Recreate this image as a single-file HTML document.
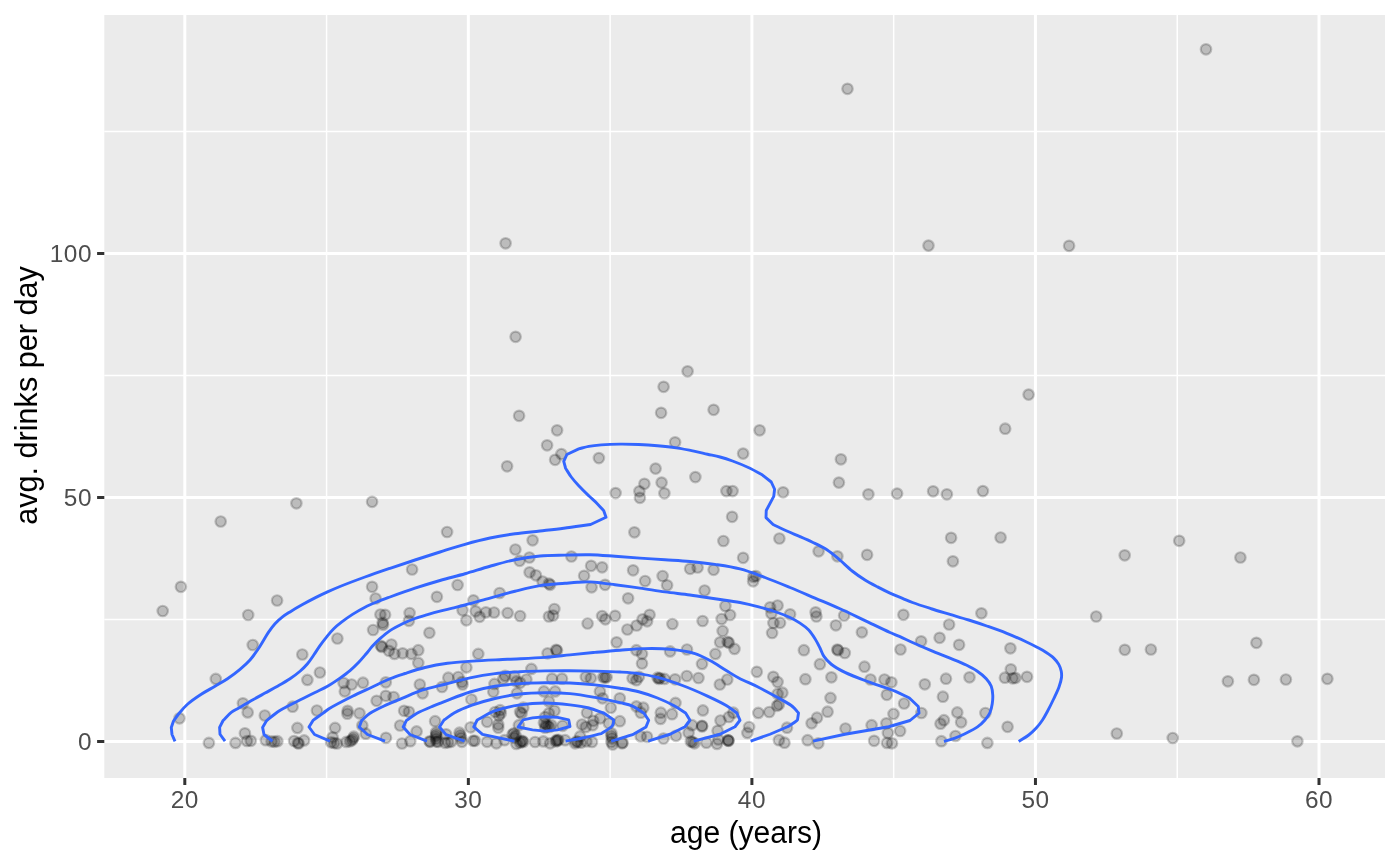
<!DOCTYPE html><html><head><meta charset="utf-8"><title>plot</title><style>html,body{margin:0;padding:0;background:#fff}svg{display:block}text{font-family:"Liberation Sans",sans-serif}</style></head><body>
<svg width="1400" height="866" viewBox="0 0 1400 866">
<rect width="1400" height="866" fill="#fff"/>
<rect x="104.3" y="15.0" width="1280.7" height="763.0" fill="#EBEBEB"/>
<g stroke="#fff" stroke-width="1.5" fill="none">
<line x1="326.58" x2="326.58" y1="15.0" y2="778.0"/>
<line x1="610.12" x2="610.12" y1="15.0" y2="778.0"/>
<line x1="893.67" x2="893.67" y1="15.0" y2="778.0"/>
<line x1="1177.23" x2="1177.23" y1="15.0" y2="778.0"/>
<line y1="619.50" y2="619.50" x1="104.3" x2="1385.0"/>
<line y1="375.50" y2="375.50" x1="104.3" x2="1385.0"/>
<line y1="131.50" y2="131.50" x1="104.3" x2="1385.0"/>
</g><g stroke="#fff" stroke-width="3" fill="none">
<line x1="184.80" x2="184.80" y1="15.0" y2="778.0"/>
<line x1="468.35" x2="468.35" y1="15.0" y2="778.0"/>
<line x1="751.90" x2="751.90" y1="15.0" y2="778.0"/>
<line x1="1035.45" x2="1035.45" y1="15.0" y2="778.0"/>
<line x1="1319.00" x2="1319.00" y1="15.0" y2="778.0"/>
<line y1="741.50" y2="741.50" x1="104.3" x2="1385.0"/>
<line y1="497.50" y2="497.50" x1="104.3" x2="1385.0"/>
<line y1="253.50" y2="253.50" x1="104.3" x2="1385.0"/>
</g>
<g fill="#000" fill-opacity="0.2" stroke="#000" stroke-opacity="0.2" stroke-width="2.2">
<circle cx="296.4" cy="503.3" r="5.25"/>
<circle cx="372.1" cy="501.8" r="5.25"/>
<circle cx="220.7" cy="521.5" r="5.25"/>
<circle cx="447.1" cy="532.0" r="5.25"/>
<circle cx="180.9" cy="586.8" r="5.25"/>
<circle cx="162.7" cy="611.0" r="5.25"/>
<circle cx="277.1" cy="600.5" r="5.25"/>
<circle cx="248.2" cy="615.0" r="5.25"/>
<circle cx="252.7" cy="645.0" r="5.25"/>
<circle cx="337.4" cy="638.5" r="5.25"/>
<circle cx="372.1" cy="586.8" r="5.25"/>
<circle cx="412.1" cy="569.5" r="5.25"/>
<circle cx="375.6" cy="598.5" r="5.25"/>
<circle cx="436.9" cy="596.8" r="5.25"/>
<circle cx="380.4" cy="614.5" r="5.25"/>
<circle cx="385.1" cy="614.8" r="5.25"/>
<circle cx="409.6" cy="613.0" r="5.25"/>
<circle cx="408.9" cy="620.8" r="5.25"/>
<circle cx="382.6" cy="622.8" r="5.25"/>
<circle cx="383.1" cy="624.8" r="5.25"/>
<circle cx="373.1" cy="630.0" r="5.25"/>
<circle cx="429.4" cy="632.8" r="5.25"/>
<circle cx="380.9" cy="645.8" r="5.25"/>
<circle cx="381.9" cy="647.0" r="5.25"/>
<circle cx="391.4" cy="644.5" r="5.25"/>
<circle cx="215.8" cy="678.9" r="5.25"/>
<circle cx="179.5" cy="718.3" r="5.25"/>
<circle cx="242.9" cy="703.3" r="5.25"/>
<circle cx="247.7" cy="712.4" r="5.25"/>
<circle cx="264.8" cy="715.5" r="5.25"/>
<circle cx="244.9" cy="733.3" r="5.25"/>
<circle cx="208.9" cy="742.9" r="5.25"/>
<circle cx="235.5" cy="742.9" r="5.25"/>
<circle cx="247.0" cy="741.0" r="5.25"/>
<circle cx="250.8" cy="740.8" r="5.25"/>
<circle cx="265.8" cy="740.2" r="5.25"/>
<circle cx="302.3" cy="654.5" r="5.25"/>
<circle cx="319.9" cy="672.5" r="5.25"/>
<circle cx="307.4" cy="679.9" r="5.25"/>
<circle cx="343.6" cy="683.0" r="5.25"/>
<circle cx="351.6" cy="684.5" r="5.25"/>
<circle cx="363.0" cy="682.7" r="5.25"/>
<circle cx="344.8" cy="691.4" r="5.25"/>
<circle cx="385.8" cy="682.3" r="5.25"/>
<circle cx="292.6" cy="706.7" r="5.25"/>
<circle cx="316.9" cy="710.5" r="5.25"/>
<circle cx="376.6" cy="700.8" r="5.25"/>
<circle cx="385.8" cy="695.8" r="5.25"/>
<circle cx="393.6" cy="697.0" r="5.25"/>
<circle cx="419.8" cy="684.5" r="5.25"/>
<circle cx="422.6" cy="693.3" r="5.25"/>
<circle cx="442.0" cy="687.0" r="5.25"/>
<circle cx="347.6" cy="710.8" r="5.25"/>
<circle cx="347.4" cy="713.7" r="5.25"/>
<circle cx="359.5" cy="713.3" r="5.25"/>
<circle cx="404.1" cy="710.8" r="5.25"/>
<circle cx="408.9" cy="711.8" r="5.25"/>
<circle cx="297.4" cy="727.9" r="5.25"/>
<circle cx="335.1" cy="727.9" r="5.25"/>
<circle cx="362.3" cy="725.4" r="5.25"/>
<circle cx="365.8" cy="733.7" r="5.25"/>
<circle cx="400.1" cy="725.5" r="5.25"/>
<circle cx="416.6" cy="731.4" r="5.25"/>
<circle cx="435.1" cy="721.2" r="5.25"/>
<circle cx="386.0" cy="737.8" r="5.25"/>
<circle cx="388.9" cy="650.8" r="5.25"/>
<circle cx="394.5" cy="653.9" r="5.25"/>
<circle cx="402.6" cy="653.3" r="5.25"/>
<circle cx="411.4" cy="653.9" r="5.25"/>
<circle cx="418.3" cy="650.2" r="5.25"/>
<circle cx="418.3" cy="662.9" r="5.25"/>
<circle cx="271.6" cy="741.4" r="5.25"/>
<circle cx="274.5" cy="741.8" r="5.25"/>
<circle cx="277.4" cy="741.2" r="5.25"/>
<circle cx="294.1" cy="741.0" r="5.25"/>
<circle cx="297.9" cy="742.9" r="5.25"/>
<circle cx="298.6" cy="743.5" r="5.25"/>
<circle cx="304.1" cy="740.4" r="5.25"/>
<circle cx="332.6" cy="737.3" r="5.25"/>
<circle cx="331.1" cy="742.3" r="5.25"/>
<circle cx="334.1" cy="743.0" r="5.25"/>
<circle cx="337.0" cy="743.5" r="5.25"/>
<circle cx="346.4" cy="741.9" r="5.25"/>
<circle cx="349.9" cy="741.3" r="5.25"/>
<circle cx="351.9" cy="740.3" r="5.25"/>
<circle cx="353.1" cy="738.6" r="5.25"/>
<circle cx="353.8" cy="736.7" r="5.25"/>
<circle cx="436.1" cy="732.3" r="5.25"/>
<circle cx="436.3" cy="734.3" r="5.25"/>
<circle cx="435.9" cy="736.3" r="5.25"/>
<circle cx="436.1" cy="738.8" r="5.25"/>
<circle cx="436.4" cy="741.6" r="5.25"/>
<circle cx="429.6" cy="741.3" r="5.25"/>
<circle cx="430.1" cy="741.8" r="5.25"/>
<circle cx="438.1" cy="741.8" r="5.25"/>
<circle cx="446.1" cy="734.3" r="5.25"/>
<circle cx="445.1" cy="742.8" r="5.25"/>
<circle cx="448.1" cy="742.3" r="5.25"/>
<circle cx="451.1" cy="741.8" r="5.25"/>
<circle cx="459.5" cy="732.7" r="5.25"/>
<circle cx="460.3" cy="735.3" r="5.25"/>
<circle cx="461.1" cy="737.9" r="5.25"/>
<circle cx="461.9" cy="741.8" r="5.25"/>
<circle cx="470.6" cy="727.3" r="5.25"/>
<circle cx="473.1" cy="740.8" r="5.25"/>
<circle cx="474.9" cy="740.8" r="5.25"/>
<circle cx="487.1" cy="741.8" r="5.25"/>
<circle cx="487.1" cy="721.8" r="5.25"/>
<circle cx="402.0" cy="743.5" r="5.25"/>
<circle cx="410.3" cy="741.2" r="5.25"/>
<circle cx="478.3" cy="653.9" r="5.25"/>
<circle cx="466.4" cy="667.4" r="5.25"/>
<circle cx="448.3" cy="677.7" r="5.25"/>
<circle cx="458.3" cy="677.0" r="5.25"/>
<circle cx="462.0" cy="682.0" r="5.25"/>
<circle cx="462.6" cy="684.5" r="5.25"/>
<circle cx="531.4" cy="668.9" r="5.25"/>
<circle cx="547.6" cy="653.3" r="5.25"/>
<circle cx="556.1" cy="649.8" r="5.25"/>
<circle cx="557.0" cy="650.5" r="5.25"/>
<circle cx="505.1" cy="675.8" r="5.25"/>
<circle cx="503.3" cy="678.9" r="5.25"/>
<circle cx="514.5" cy="676.4" r="5.25"/>
<circle cx="516.4" cy="681.4" r="5.25"/>
<circle cx="520.1" cy="682.7" r="5.25"/>
<circle cx="526.4" cy="679.5" r="5.25"/>
<circle cx="494.5" cy="683.9" r="5.25"/>
<circle cx="493.3" cy="691.8" r="5.25"/>
<circle cx="517.0" cy="693.3" r="5.25"/>
<circle cx="552.0" cy="678.7" r="5.25"/>
<circle cx="562.0" cy="678.7" r="5.25"/>
<circle cx="585.8" cy="677.0" r="5.25"/>
<circle cx="590.8" cy="678.3" r="5.25"/>
<circle cx="603.3" cy="677.3" r="5.25"/>
<circle cx="605.1" cy="677.3" r="5.25"/>
<circle cx="606.6" cy="677.3" r="5.25"/>
<circle cx="543.9" cy="691.4" r="5.25"/>
<circle cx="555.1" cy="691.4" r="5.25"/>
<circle cx="599.9" cy="691.4" r="5.25"/>
<circle cx="602.6" cy="698.3" r="5.25"/>
<circle cx="548.9" cy="701.4" r="5.25"/>
<circle cx="471.4" cy="699.5" r="5.25"/>
<circle cx="619.8" cy="698.3" r="5.25"/>
<circle cx="610.8" cy="707.7" r="5.25"/>
<circle cx="587.0" cy="712.7" r="5.25"/>
<circle cx="500.1" cy="710.2" r="5.25"/>
<circle cx="500.8" cy="713.3" r="5.25"/>
<circle cx="498.9" cy="715.8" r="5.25"/>
<circle cx="495.1" cy="712.0" r="5.25"/>
<circle cx="523.3" cy="707.7" r="5.25"/>
<circle cx="520.1" cy="712.0" r="5.25"/>
<circle cx="521.6" cy="713.5" r="5.25"/>
<circle cx="554.5" cy="710.8" r="5.25"/>
<circle cx="548.9" cy="713.3" r="5.25"/>
<circle cx="545.1" cy="717.0" r="5.25"/>
<circle cx="498.3" cy="724.5" r="5.25"/>
<circle cx="498.3" cy="727.7" r="5.25"/>
<circle cx="518.9" cy="725.2" r="5.25"/>
<circle cx="543.9" cy="722.7" r="5.25"/>
<circle cx="545.8" cy="724.5" r="5.25"/>
<circle cx="547.6" cy="725.8" r="5.25"/>
<circle cx="549.5" cy="727.0" r="5.25"/>
<circle cx="545.1" cy="727.7" r="5.25"/>
<circle cx="551.4" cy="725.2" r="5.25"/>
<circle cx="562.6" cy="725.8" r="5.25"/>
<circle cx="582.0" cy="724.5" r="5.25"/>
<circle cx="585.8" cy="727.0" r="5.25"/>
<circle cx="593.3" cy="720.8" r="5.25"/>
<circle cx="592.6" cy="725.2" r="5.25"/>
<circle cx="600.1" cy="718.3" r="5.25"/>
<circle cx="608.9" cy="723.3" r="5.25"/>
<circle cx="619.8" cy="721.2" r="5.25"/>
<circle cx="513.9" cy="733.3" r="5.25"/>
<circle cx="515.8" cy="735.8" r="5.25"/>
<circle cx="512.6" cy="734.5" r="5.25"/>
<circle cx="514.5" cy="737.7" r="5.25"/>
<circle cx="580.1" cy="736.4" r="5.25"/>
<circle cx="611.4" cy="733.3" r="5.25"/>
<circle cx="611.4" cy="735.8" r="5.25"/>
<circle cx="612.0" cy="738.3" r="5.25"/>
<circle cx="496.4" cy="743.3" r="5.25"/>
<circle cx="504.5" cy="740.2" r="5.25"/>
<circle cx="516.4" cy="743.9" r="5.25"/>
<circle cx="521.4" cy="741.4" r="5.25"/>
<circle cx="523.3" cy="742.0" r="5.25"/>
<circle cx="520.1" cy="742.7" r="5.25"/>
<circle cx="522.4" cy="740.8" r="5.25"/>
<circle cx="535.1" cy="742.0" r="5.25"/>
<circle cx="543.3" cy="741.4" r="5.25"/>
<circle cx="550.1" cy="743.3" r="5.25"/>
<circle cx="556.4" cy="740.2" r="5.25"/>
<circle cx="557.6" cy="740.8" r="5.25"/>
<circle cx="555.8" cy="741.4" r="5.25"/>
<circle cx="558.3" cy="739.8" r="5.25"/>
<circle cx="565.1" cy="740.2" r="5.25"/>
<circle cx="575.1" cy="743.3" r="5.25"/>
<circle cx="577.6" cy="742.0" r="5.25"/>
<circle cx="580.8" cy="742.7" r="5.25"/>
<circle cx="576.4" cy="741.4" r="5.25"/>
<circle cx="586.4" cy="741.4" r="5.25"/>
<circle cx="592.0" cy="742.0" r="5.25"/>
<circle cx="611.4" cy="742.0" r="5.25"/>
<circle cx="612.6" cy="744.5" r="5.25"/>
<circle cx="636.4" cy="650.2" r="5.25"/>
<circle cx="642.0" cy="653.9" r="5.25"/>
<circle cx="642.0" cy="663.5" r="5.25"/>
<circle cx="670.1" cy="651.4" r="5.25"/>
<circle cx="687.0" cy="649.5" r="5.25"/>
<circle cx="715.4" cy="653.9" r="5.25"/>
<circle cx="734.5" cy="648.9" r="5.25"/>
<circle cx="702.0" cy="663.9" r="5.25"/>
<circle cx="756.8" cy="671.8" r="5.25"/>
<circle cx="773.3" cy="676.8" r="5.25"/>
<circle cx="777.6" cy="682.0" r="5.25"/>
<circle cx="632.6" cy="678.3" r="5.25"/>
<circle cx="636.4" cy="680.2" r="5.25"/>
<circle cx="638.9" cy="676.8" r="5.25"/>
<circle cx="657.6" cy="677.7" r="5.25"/>
<circle cx="658.9" cy="678.9" r="5.25"/>
<circle cx="659.9" cy="678.0" r="5.25"/>
<circle cx="664.5" cy="678.9" r="5.25"/>
<circle cx="675.1" cy="679.3" r="5.25"/>
<circle cx="686.8" cy="676.0" r="5.25"/>
<circle cx="698.5" cy="678.0" r="5.25"/>
<circle cx="727.3" cy="679.5" r="5.25"/>
<circle cx="719.8" cy="684.5" r="5.25"/>
<circle cx="777.6" cy="693.9" r="5.25"/>
<circle cx="782.4" cy="692.7" r="5.25"/>
<circle cx="777.0" cy="705.8" r="5.25"/>
<circle cx="778.9" cy="704.5" r="5.25"/>
<circle cx="758.3" cy="712.9" r="5.25"/>
<circle cx="769.3" cy="712.0" r="5.25"/>
<circle cx="636.4" cy="706.4" r="5.25"/>
<circle cx="643.3" cy="707.7" r="5.25"/>
<circle cx="640.8" cy="712.7" r="5.25"/>
<circle cx="675.5" cy="702.9" r="5.25"/>
<circle cx="660.8" cy="712.7" r="5.25"/>
<circle cx="672.0" cy="714.2" r="5.25"/>
<circle cx="660.5" cy="718.9" r="5.25"/>
<circle cx="702.9" cy="710.4" r="5.25"/>
<circle cx="733.3" cy="712.7" r="5.25"/>
<circle cx="728.9" cy="717.0" r="5.25"/>
<circle cx="720.5" cy="720.5" r="5.25"/>
<circle cx="692.0" cy="725.2" r="5.25"/>
<circle cx="702.0" cy="725.8" r="5.25"/>
<circle cx="702.1" cy="726.4" r="5.25"/>
<circle cx="688.6" cy="732.7" r="5.25"/>
<circle cx="717.6" cy="730.8" r="5.25"/>
<circle cx="749.1" cy="727.0" r="5.25"/>
<circle cx="747.4" cy="732.9" r="5.25"/>
<circle cx="787.0" cy="727.7" r="5.25"/>
<circle cx="640.8" cy="736.4" r="5.25"/>
<circle cx="647.0" cy="736.8" r="5.25"/>
<circle cx="663.5" cy="738.5" r="5.25"/>
<circle cx="676.0" cy="735.8" r="5.25"/>
<circle cx="622.0" cy="743.3" r="5.25"/>
<circle cx="622.6" cy="742.7" r="5.25"/>
<circle cx="690.8" cy="741.4" r="5.25"/>
<circle cx="694.5" cy="743.3" r="5.25"/>
<circle cx="692.6" cy="742.0" r="5.25"/>
<circle cx="706.4" cy="742.7" r="5.25"/>
<circle cx="717.0" cy="743.9" r="5.25"/>
<circle cx="718.3" cy="739.5" r="5.25"/>
<circle cx="728.3" cy="740.4" r="5.25"/>
<circle cx="728.6" cy="740.8" r="5.25"/>
<circle cx="728.0" cy="740.3" r="5.25"/>
<circle cx="778.9" cy="740.2" r="5.25"/>
<circle cx="784.5" cy="742.7" r="5.25"/>
<circle cx="803.9" cy="650.2" r="5.25"/>
<circle cx="837.3" cy="649.5" r="5.25"/>
<circle cx="838.0" cy="650.3" r="5.25"/>
<circle cx="844.8" cy="653.0" r="5.25"/>
<circle cx="900.5" cy="649.5" r="5.25"/>
<circle cx="819.9" cy="664.2" r="5.25"/>
<circle cx="864.5" cy="666.7" r="5.25"/>
<circle cx="805.4" cy="679.2" r="5.25"/>
<circle cx="831.4" cy="677.3" r="5.25"/>
<circle cx="870.5" cy="679.5" r="5.25"/>
<circle cx="884.5" cy="679.5" r="5.25"/>
<circle cx="891.4" cy="682.3" r="5.25"/>
<circle cx="924.8" cy="684.3" r="5.25"/>
<circle cx="946.0" cy="678.7" r="5.25"/>
<circle cx="969.5" cy="677.3" r="5.25"/>
<circle cx="830.5" cy="697.9" r="5.25"/>
<circle cx="886.8" cy="694.8" r="5.25"/>
<circle cx="942.9" cy="696.7" r="5.25"/>
<circle cx="904.1" cy="703.5" r="5.25"/>
<circle cx="827.6" cy="711.7" r="5.25"/>
<circle cx="817.0" cy="717.7" r="5.25"/>
<circle cx="811.6" cy="723.3" r="5.25"/>
<circle cx="893.5" cy="713.9" r="5.25"/>
<circle cx="921.4" cy="713.0" r="5.25"/>
<circle cx="957.3" cy="712.4" r="5.25"/>
<circle cx="943.9" cy="720.2" r="5.25"/>
<circle cx="940.5" cy="723.7" r="5.25"/>
<circle cx="961.1" cy="722.3" r="5.25"/>
<circle cx="845.5" cy="728.5" r="5.25"/>
<circle cx="871.6" cy="725.2" r="5.25"/>
<circle cx="886.4" cy="723.3" r="5.25"/>
<circle cx="887.9" cy="733.0" r="5.25"/>
<circle cx="900.1" cy="731.0" r="5.25"/>
<circle cx="955.5" cy="736.0" r="5.25"/>
<circle cx="807.6" cy="740.2" r="5.25"/>
<circle cx="818.3" cy="743.3" r="5.25"/>
<circle cx="874.1" cy="740.8" r="5.25"/>
<circle cx="887.0" cy="742.9" r="5.25"/>
<circle cx="892.0" cy="743.3" r="5.25"/>
<circle cx="941.4" cy="741.2" r="5.25"/>
<circle cx="1010.4" cy="648.3" r="5.25"/>
<circle cx="1124.8" cy="649.8" r="5.25"/>
<circle cx="1010.8" cy="669.3" r="5.25"/>
<circle cx="1004.9" cy="677.7" r="5.25"/>
<circle cx="1012.6" cy="678.3" r="5.25"/>
<circle cx="1015.4" cy="678.0" r="5.25"/>
<circle cx="1027.0" cy="676.8" r="5.25"/>
<circle cx="985.4" cy="713.0" r="5.25"/>
<circle cx="1007.6" cy="726.8" r="5.25"/>
<circle cx="987.4" cy="742.9" r="5.25"/>
<circle cx="1116.8" cy="733.5" r="5.25"/>
<circle cx="1179.2" cy="540.8" r="5.25"/>
<circle cx="1124.7" cy="555.3" r="5.25"/>
<circle cx="1240.4" cy="557.5" r="5.25"/>
<circle cx="1096.2" cy="616.5" r="5.25"/>
<circle cx="1256.4" cy="642.8" r="5.25"/>
<circle cx="1150.9" cy="649.5" r="5.25"/>
<circle cx="1227.9" cy="681.3" r="5.25"/>
<circle cx="1253.9" cy="679.8" r="5.25"/>
<circle cx="1285.9" cy="679.5" r="5.25"/>
<circle cx="1327.4" cy="678.8" r="5.25"/>
<circle cx="1172.7" cy="738.0" r="5.25"/>
<circle cx="1297.4" cy="741.3" r="5.25"/>
<circle cx="547.1" cy="445.3" r="5.25"/>
<circle cx="561.4" cy="454.1" r="5.25"/>
<circle cx="555.1" cy="459.8" r="5.25"/>
<circle cx="507.1" cy="466.3" r="5.25"/>
<circle cx="598.9" cy="458.1" r="5.25"/>
<circle cx="675.1" cy="442.3" r="5.25"/>
<circle cx="743.1" cy="453.6" r="5.25"/>
<circle cx="655.6" cy="468.6" r="5.25"/>
<circle cx="695.4" cy="477.1" r="5.25"/>
<circle cx="644.4" cy="483.8" r="5.25"/>
<circle cx="661.6" cy="482.6" r="5.25"/>
<circle cx="639.4" cy="491.3" r="5.25"/>
<circle cx="639.9" cy="497.8" r="5.25"/>
<circle cx="664.4" cy="493.3" r="5.25"/>
<circle cx="615.6" cy="493.1" r="5.25"/>
<circle cx="726.4" cy="491.1" r="5.25"/>
<circle cx="732.6" cy="491.1" r="5.25"/>
<circle cx="783.1" cy="492.3" r="5.25"/>
<circle cx="732.1" cy="516.8" r="5.25"/>
<circle cx="634.4" cy="532.3" r="5.25"/>
<circle cx="723.4" cy="541.0" r="5.25"/>
<circle cx="779.4" cy="538.5" r="5.25"/>
<circle cx="532.6" cy="540.3" r="5.25"/>
<circle cx="515.4" cy="549.5" r="5.25"/>
<circle cx="529.4" cy="557.5" r="5.25"/>
<circle cx="519.6" cy="560.8" r="5.25"/>
<circle cx="571.4" cy="556.5" r="5.25"/>
<circle cx="743.1" cy="557.8" r="5.25"/>
<circle cx="591.1" cy="565.8" r="5.25"/>
<circle cx="602.1" cy="567.3" r="5.25"/>
<circle cx="584.1" cy="575.8" r="5.25"/>
<circle cx="633.1" cy="570.3" r="5.25"/>
<circle cx="662.6" cy="576.0" r="5.25"/>
<circle cx="645.1" cy="581.0" r="5.25"/>
<circle cx="667.1" cy="585.3" r="5.25"/>
<circle cx="690.1" cy="568.8" r="5.25"/>
<circle cx="697.6" cy="567.5" r="5.25"/>
<circle cx="713.6" cy="569.8" r="5.25"/>
<circle cx="753.4" cy="576.8" r="5.25"/>
<circle cx="755.9" cy="576.0" r="5.25"/>
<circle cx="753.1" cy="581.3" r="5.25"/>
<circle cx="529.6" cy="572.3" r="5.25"/>
<circle cx="535.9" cy="575.3" r="5.25"/>
<circle cx="542.6" cy="581.5" r="5.25"/>
<circle cx="548.9" cy="583.5" r="5.25"/>
<circle cx="550.1" cy="584.8" r="5.25"/>
<circle cx="457.6" cy="585.0" r="5.25"/>
<circle cx="591.6" cy="587.3" r="5.25"/>
<circle cx="605.1" cy="584.8" r="5.25"/>
<circle cx="704.6" cy="590.5" r="5.25"/>
<circle cx="499.6" cy="593.0" r="5.25"/>
<circle cx="473.4" cy="600.3" r="5.25"/>
<circle cx="628.1" cy="598.3" r="5.25"/>
<circle cx="725.4" cy="606.0" r="5.25"/>
<circle cx="730.1" cy="615.0" r="5.25"/>
<circle cx="721.6" cy="619.0" r="5.25"/>
<circle cx="722.6" cy="631.0" r="5.25"/>
<circle cx="770.1" cy="607.3" r="5.25"/>
<circle cx="777.6" cy="605.5" r="5.25"/>
<circle cx="771.4" cy="613.5" r="5.25"/>
<circle cx="773.4" cy="623.0" r="5.25"/>
<circle cx="780.1" cy="622.8" r="5.25"/>
<circle cx="772.1" cy="633.0" r="5.25"/>
<circle cx="790.1" cy="614.3" r="5.25"/>
<circle cx="462.6" cy="610.3" r="5.25"/>
<circle cx="475.6" cy="611.3" r="5.25"/>
<circle cx="479.6" cy="616.8" r="5.25"/>
<circle cx="485.9" cy="612.3" r="5.25"/>
<circle cx="494.1" cy="612.5" r="5.25"/>
<circle cx="507.6" cy="613.0" r="5.25"/>
<circle cx="520.1" cy="616.0" r="5.25"/>
<circle cx="466.4" cy="620.3" r="5.25"/>
<circle cx="554.4" cy="609.0" r="5.25"/>
<circle cx="548.9" cy="616.5" r="5.25"/>
<circle cx="553.1" cy="615.5" r="5.25"/>
<circle cx="602.1" cy="616.0" r="5.25"/>
<circle cx="605.4" cy="619.3" r="5.25"/>
<circle cx="615.1" cy="615.8" r="5.25"/>
<circle cx="587.6" cy="623.5" r="5.25"/>
<circle cx="649.6" cy="614.8" r="5.25"/>
<circle cx="642.6" cy="619.3" r="5.25"/>
<circle cx="647.1" cy="621.3" r="5.25"/>
<circle cx="636.6" cy="625.5" r="5.25"/>
<circle cx="627.4" cy="629.5" r="5.25"/>
<circle cx="672.4" cy="624.0" r="5.25"/>
<circle cx="702.6" cy="621.0" r="5.25"/>
<circle cx="616.6" cy="642.3" r="5.25"/>
<circle cx="720.1" cy="642.3" r="5.25"/>
<circle cx="727.6" cy="641.8" r="5.25"/>
<circle cx="728.9" cy="642.8" r="5.25"/>
<circle cx="840.9" cy="459.3" r="5.25"/>
<circle cx="838.9" cy="482.6" r="5.25"/>
<circle cx="868.4" cy="494.3" r="5.25"/>
<circle cx="897.1" cy="493.6" r="5.25"/>
<circle cx="933.1" cy="491.3" r="5.25"/>
<circle cx="946.9" cy="494.3" r="5.25"/>
<circle cx="982.9" cy="491.1" r="5.25"/>
<circle cx="951.1" cy="537.8" r="5.25"/>
<circle cx="1000.6" cy="537.5" r="5.25"/>
<circle cx="818.6" cy="551.3" r="5.25"/>
<circle cx="837.4" cy="556.3" r="5.25"/>
<circle cx="867.1" cy="554.8" r="5.25"/>
<circle cx="952.9" cy="561.3" r="5.25"/>
<circle cx="815.6" cy="612.3" r="5.25"/>
<circle cx="816.4" cy="616.5" r="5.25"/>
<circle cx="844.1" cy="615.5" r="5.25"/>
<circle cx="835.9" cy="625.3" r="5.25"/>
<circle cx="861.9" cy="632.3" r="5.25"/>
<circle cx="903.4" cy="614.8" r="5.25"/>
<circle cx="981.4" cy="613.3" r="5.25"/>
<circle cx="949.1" cy="624.5" r="5.25"/>
<circle cx="939.6" cy="637.8" r="5.25"/>
<circle cx="921.1" cy="641.3" r="5.25"/>
<circle cx="959.1" cy="644.8" r="5.25"/>
<circle cx="505.6" cy="243.3" r="5.25"/>
<circle cx="515.6" cy="336.8" r="5.25"/>
<circle cx="519.1" cy="415.8" r="5.25"/>
<circle cx="557.1" cy="430.3" r="5.25"/>
<circle cx="687.6" cy="371.3" r="5.25"/>
<circle cx="663.6" cy="386.8" r="5.25"/>
<circle cx="661.1" cy="412.8" r="5.25"/>
<circle cx="713.6" cy="409.8" r="5.25"/>
<circle cx="759.6" cy="430.3" r="5.25"/>
<circle cx="1206.0" cy="49.3" r="5.25"/>
<circle cx="847.5" cy="88.8" r="5.25"/>
<circle cx="928.5" cy="245.6" r="5.25"/>
<circle cx="1069.1" cy="245.8" r="5.25"/>
<circle cx="1028.6" cy="394.6" r="5.25"/>
<circle cx="1005.2" cy="428.7" r="5.25"/>
</g>
<g fill="none" stroke="#3366FF" stroke-width="2.9" stroke-linejoin="round" stroke-linecap="butt">
<path d="M175.00,741.30 L172.00,734.50 L171.30,727.50 L173.50,721.00 C175.47,718.33 177.20,715.66 179.40,713.00 C181.81,710.08 184.28,707.11 187.50,704.25 C191.34,700.84 196.59,697.29 201.25,694.25 C205.76,691.31 210.53,688.89 215.00,686.25 C219.27,683.72 223.40,681.50 227.50,678.75 C231.74,675.90 236.15,672.63 240.00,669.40 C243.61,666.37 247.03,663.32 250.00,660.00 C252.83,656.83 255.18,653.38 257.50,650.00 C259.75,646.71 261.79,643.16 263.75,640.00 C265.51,637.16 266.92,634.56 268.75,631.90 C270.65,629.14 272.70,626.26 275.00,623.75 C277.29,621.26 279.92,618.92 282.50,616.90 C284.93,615.00 287.15,613.68 290.00,611.90 C293.61,609.65 298.31,606.94 302.50,604.60 C306.65,602.28 310.81,600.03 315.00,597.90 C319.14,595.80 323.31,593.81 327.50,591.90 C331.65,590.01 335.09,588.49 340.00,586.50 C346.88,583.71 356.65,580.04 365.00,577.00 C373.31,573.98 381.66,571.14 390.00,568.30 C398.32,565.47 406.66,562.72 415.00,560.00 C423.33,557.29 431.66,554.62 440.00,552.00 C448.33,549.39 456.64,546.64 465.00,544.30 C473.30,541.98 481.63,539.76 490.00,538.00 C498.30,536.25 506.65,534.92 515.00,533.75 C523.32,532.59 531.77,531.93 540.00,531.00 C548.02,530.09 555.60,529.29 563.75,528.25 C572.43,527.14 581.65,525.75 590.60,524.50 L606.00,517.25 L603.75,510.75 C601.67,508.47 599.81,506.23 597.50,503.90 C594.88,501.25 591.74,498.63 588.75,495.75 C585.50,492.61 581.79,489.03 578.75,485.75 C576.01,482.79 573.48,479.99 571.25,477.00 C569.13,474.15 567.48,471.17 565.60,468.25 L563.75,461.40 L566.90,454.50 L578.75,448.90 C582.08,448.07 585.21,447.05 588.75,446.40 C592.66,445.68 596.65,445.27 601.25,444.90 C606.86,444.44 613.75,444.17 620.00,444.10 C626.25,444.03 632.50,444.23 638.75,444.50 C645.00,444.77 651.26,445.18 657.50,445.75 C663.76,446.32 670.02,446.96 676.25,447.90 C682.52,448.84 689.39,450.24 695.00,451.40 C699.60,452.35 703.33,453.32 707.50,454.25 C711.66,455.18 715.86,455.88 720.00,457.00 C724.19,458.13 728.02,459.36 732.50,461.00 C737.88,462.97 744.72,465.72 750.00,468.25 C754.58,470.45 758.33,472.82 762.50,475.10 L771.25,482.00 L774.60,489.25 L773.75,496.40 L766.25,510.50 L766.00,517.60 L773.10,524.50 C777.90,526.77 782.85,529.22 787.50,531.30 C791.79,533.22 795.84,534.79 800.00,536.60 C804.18,538.42 808.36,540.23 812.50,542.20 C816.69,544.19 821.15,546.15 825.00,548.50 C828.62,550.71 832.13,553.52 835.00,555.80 C837.30,557.63 838.69,558.97 841.00,561.00 C844.22,563.83 848.49,568.08 852.50,571.25 C856.49,574.41 860.76,577.36 865.00,580.00 C869.10,582.56 873.31,584.71 877.50,586.90 C881.64,589.07 885.80,591.19 890.00,593.10 C894.14,594.98 898.57,596.66 902.50,598.30 C906.02,599.77 908.61,601.04 912.50,602.50 C917.74,604.47 924.99,606.76 931.25,608.75 C937.49,610.73 943.75,612.52 950.00,614.40 C956.25,616.27 962.52,618.03 968.75,620.00 C975.02,621.98 981.27,624.07 987.50,626.25 C993.77,628.44 1000.04,630.62 1006.25,633.10 C1012.54,635.61 1019.41,638.64 1025.00,641.25 C1029.62,643.41 1033.73,645.48 1037.50,647.50 C1040.70,649.21 1043.50,650.70 1046.25,652.50 C1048.90,654.24 1051.61,656.03 1053.75,658.10 C1055.73,660.02 1057.49,662.15 1058.75,664.40 C1059.95,666.54 1060.80,668.98 1061.25,671.25 C1061.66,673.35 1061.75,675.22 1061.50,677.50 C1061.19,680.36 1060.16,683.71 1059.00,687.00 C1057.67,690.76 1055.62,694.79 1053.75,698.75 C1051.80,702.87 1049.52,707.48 1047.50,711.25 C1045.79,714.45 1044.37,717.20 1042.50,720.00 C1040.62,722.82 1038.54,725.60 1036.25,728.10 C1033.96,730.60 1031.53,732.84 1028.75,735.00 C1025.74,737.33 1022.08,739.33 1018.75,741.50"/>
<path d="M225.00,741.10 L220.00,734.25 L219.60,727.40 L223.10,720.50 C225.82,717.80 228.45,714.56 231.25,712.40 C233.69,710.52 235.87,709.68 238.75,708.00 C242.64,705.73 248.01,702.54 252.50,700.00 C256.75,697.59 260.83,695.39 265.00,693.10 C269.16,690.81 273.36,688.63 277.50,686.25 C281.69,683.85 286.13,681.35 290.00,678.75 C293.59,676.34 296.99,673.86 300.00,671.25 C302.77,668.84 305.21,666.45 307.50,663.75 C309.80,661.03 311.69,657.99 313.75,655.00 C315.86,651.94 317.81,648.66 320.00,645.60 C322.19,642.53 324.56,639.46 326.90,636.60 C329.14,633.86 331.30,631.16 333.75,628.75 C336.17,626.37 338.64,624.42 341.50,622.20 C344.80,619.64 348.66,616.86 352.50,614.40 C356.48,611.85 360.77,609.34 365.00,607.20 C369.11,605.12 373.31,603.41 377.50,601.70 C381.64,600.01 385.11,598.78 390.00,597.00 C396.89,594.49 406.64,590.96 415.00,588.20 C423.31,585.46 431.65,582.91 440.00,580.50 C448.31,578.10 456.68,576.12 465.00,573.75 C473.35,571.37 481.64,568.59 490.00,566.25 C498.31,563.92 506.62,561.46 515.00,559.75 C523.29,558.06 531.64,556.77 540.00,556.00 C548.31,555.23 556.67,555.31 565.00,555.10 C573.33,554.89 581.67,554.56 590.00,554.75 C598.34,554.94 606.67,555.69 615.00,556.25 C623.34,556.81 631.67,557.52 640.00,558.10 C648.33,558.68 656.67,559.18 665.00,559.75 C673.33,560.32 681.68,560.73 690.00,561.50 C698.34,562.28 706.69,563.17 715.00,564.40 C723.35,565.63 731.75,566.75 740.00,568.90 C748.42,571.09 756.70,574.42 765.00,577.50 C773.37,580.61 781.68,584.07 790.00,587.50 C798.35,590.94 806.67,594.56 815.00,598.10 C823.33,601.64 831.70,605.02 840.00,608.75 C848.37,612.52 856.67,616.64 865.00,620.60 C873.33,624.56 883.52,629.60 890.00,632.50 C894.06,634.32 896.50,635.15 900.00,636.70 C903.95,638.45 907.90,640.44 912.50,642.50 C918.10,645.01 924.98,647.99 931.25,650.60 C937.48,653.19 943.99,655.62 950.00,658.10 C955.62,660.42 961.45,662.65 966.25,665.00 C970.26,666.96 973.65,668.69 977.00,671.00 C980.31,673.28 983.79,676.00 986.25,678.75 C988.38,681.13 990.17,683.53 991.25,686.25 C992.32,688.95 992.58,692.07 992.75,695.00 C992.91,697.91 992.70,700.86 992.25,703.75 C991.79,706.69 991.21,709.79 990.00,712.50 C988.79,715.21 987.00,717.66 985.00,720.00 C982.88,722.48 980.47,724.77 977.50,726.90 C973.99,729.42 968.98,731.80 965.00,733.75 C961.52,735.46 958.45,736.82 955.00,738.10 C951.46,739.41 947.67,740.37 944.00,741.50"/>
<path d="M272.50,741.25 L264.00,734.50 L262.60,727.40 L266.50,720.80 C270.17,717.87 274.18,714.27 277.50,712.00 C280.00,710.29 281.53,709.56 284.40,708.00 C288.98,705.50 297.02,701.52 302.50,698.75 C307.05,696.45 310.83,694.58 315.00,692.50 C319.17,690.42 323.40,688.60 327.50,686.25 C331.74,683.82 336.11,680.82 340.00,678.10 C343.56,675.61 346.85,673.26 350.00,670.60 C353.09,667.99 356.03,665.13 358.75,662.30 C361.35,659.59 363.69,656.73 366.00,654.00 C368.20,651.40 370.02,648.80 372.30,646.30 C374.67,643.69 377.20,641.21 380.00,638.70 C383.05,635.97 386.36,633.04 390.00,630.60 C393.83,628.03 398.28,625.79 402.50,623.75 C406.62,621.76 410.80,620.03 415.00,618.50 C419.13,616.99 423.32,615.84 427.50,614.60 C431.66,613.37 435.82,612.19 440.00,611.10 C444.16,610.02 448.34,609.12 452.50,608.10 C456.67,607.08 460.13,606.28 465.00,605.00 C471.91,603.19 481.67,600.39 490.00,598.10 C498.33,595.81 506.64,593.34 515.00,591.25 C523.31,589.17 531.62,586.93 540.00,585.60 C548.29,584.29 558.10,583.91 565.00,583.30 C569.88,582.87 573.33,582.48 577.50,582.25 C581.66,582.02 585.84,581.76 590.00,581.90 C594.17,582.04 598.34,582.63 602.50,583.10 C606.67,583.58 610.12,584.10 615.00,584.75 C621.90,585.67 631.67,586.91 640.00,588.10 C648.34,589.29 656.66,590.75 665.00,591.90 C673.33,593.05 681.67,593.86 690.00,595.00 C698.34,596.14 706.67,597.50 715.00,598.75 C723.33,600.00 732.29,601.02 740.00,602.50 C746.73,603.79 752.52,605.24 758.75,606.90 C765.03,608.57 771.92,610.56 777.50,612.50 C782.13,614.11 786.12,615.65 790.00,617.50 C793.58,619.21 796.86,621.00 800.00,623.10 C803.10,625.17 806.23,627.36 808.75,630.00 C811.22,632.59 813.12,635.73 815.00,638.75 C816.86,641.73 818.49,645.00 820.00,648.00 C821.39,650.77 822.03,653.52 823.75,656.10 C825.67,658.97 828.15,661.74 831.25,664.25 C834.97,667.27 839.62,669.75 845.00,672.40 C851.99,675.84 861.63,679.27 870.00,682.40 C878.30,685.50 887.88,688.17 895.00,691.10 C900.53,693.38 904.60,695.70 909.40,698.00 L918.30,706.50 L919.00,713.10 L910.00,720.50 L888.75,726.75 L845.00,734.25 L813.10,741.10"/>
<path d="M330.00,741.20 L314.50,734.50 L309.00,727.00 L313.00,720.40 C316.50,717.87 320.50,714.98 323.50,712.80 C325.75,711.17 326.71,710.18 329.40,708.50 C334.50,705.31 345.16,699.91 352.50,696.25 C359.03,693.00 365.00,690.42 371.25,687.50 C377.50,684.58 384.04,681.18 390.00,678.75 C395.22,676.62 399.62,675.25 405.00,673.50 C411.17,671.50 418.09,669.18 425.00,667.50 C432.23,665.74 439.77,664.31 447.50,663.25 C455.59,662.14 463.46,661.72 472.50,661.10 C483.18,660.37 495.63,659.91 507.50,659.30 C519.78,658.67 533.77,658.25 545.00,657.40 C554.18,656.71 561.67,655.73 570.00,654.90 C578.33,654.07 586.66,653.18 595.00,652.40 C603.33,651.62 611.66,650.83 620.00,650.20 C628.33,649.57 636.66,648.76 645.00,648.60 C653.33,648.44 661.70,648.42 670.00,649.25 C678.36,650.08 687.85,651.37 695.00,653.60 C700.77,655.40 704.98,657.81 710.00,660.50 C715.40,663.39 721.18,667.42 726.25,670.50 C730.68,673.19 734.09,675.52 738.75,678.00 C744.30,680.95 751.29,683.65 757.50,686.75 C763.79,689.89 770.38,693.47 776.25,696.75 C781.56,699.71 788.00,703.08 791.25,705.50 C793.02,706.81 793.80,707.76 795.00,709.00 C796.22,710.26 797.33,711.67 798.50,713.00 L797.50,719.90 C796.67,720.60 796.09,721.20 795.00,722.00 C793.20,723.32 790.00,725.17 787.50,726.75 L770.00,734.25 L750.60,741.10"/>
<path d="M385.00,741.20 L367.50,734.50 L359.30,727.00 L361.70,720.40 C364.47,718.03 366.76,715.50 370.00,713.30 C373.83,710.70 378.59,708.52 383.50,706.20 C389.13,703.54 395.71,701.02 402.00,698.40 C408.53,695.68 415.02,692.52 422.00,690.20 C429.32,687.77 437.17,686.27 445.00,684.25 C453.16,682.14 461.63,679.58 470.00,677.80 C478.30,676.04 486.64,674.61 495.00,673.60 C503.31,672.60 511.66,672.20 520.00,671.75 C528.33,671.30 536.67,671.07 545.00,670.90 C553.33,670.73 561.67,670.72 570.00,670.75 C578.33,670.78 586.67,670.89 595.00,671.10 C603.33,671.31 612.27,671.53 620.00,672.00 C626.70,672.41 632.53,672.71 638.75,673.60 C645.03,674.50 650.85,675.66 657.50,677.40 C665.29,679.44 674.23,682.42 682.50,685.50 C690.90,688.64 699.82,692.55 707.50,696.10 C714.25,699.22 720.98,702.34 726.25,705.50 C730.41,707.99 733.35,710.50 736.90,713.00 L740.00,720.25 L735.00,726.75 L720.00,734.25 L693.75,741.10"/>
<path d="M427.00,741.20 L410.00,734.50 L403.20,727.00 L406.50,720.40 C410.00,718.03 413.00,715.53 417.00,713.30 C421.78,710.64 428.47,708.01 433.50,705.90 C437.66,704.16 440.42,703.16 445.00,701.40 C451.73,698.82 461.58,694.53 470.00,692.00 C478.25,689.52 486.63,687.70 495.00,686.30 C503.29,684.91 511.66,684.19 520.00,683.60 C528.32,683.01 536.67,682.85 545.00,682.75 C553.33,682.65 561.67,682.64 570.00,683.00 C578.34,683.36 586.68,684.04 595.00,684.90 C603.35,685.77 612.28,686.96 620.00,688.20 C626.71,689.28 632.55,690.14 638.75,691.75 C645.06,693.39 651.54,695.64 657.50,698.00 C663.18,700.25 668.84,702.83 673.75,705.50 C678.10,707.87 681.65,710.50 685.60,713.00 L690.00,720.25 L685.00,726.75 L670.00,734.25 L648.10,741.10"/>
<path d="M464.50,741.20 L446.00,734.60 L439.50,727.00 L444.00,720.00 C447.50,717.60 450.43,715.05 454.50,712.80 C459.48,710.04 465.69,707.48 472.00,705.20 C479.07,702.65 487.12,700.35 495.00,698.50 C503.11,696.59 511.64,694.96 520.00,694.00 C528.30,693.05 536.67,692.82 545.00,692.75 C553.33,692.68 561.69,692.83 570.00,693.60 C578.36,694.37 586.69,695.89 595.00,697.40 C603.36,698.92 613.12,701.04 620.00,702.70 C624.90,703.89 628.54,704.38 632.50,706.10 C636.55,707.86 640.17,710.83 644.00,713.20 L648.70,720.25 L646.00,726.90 L633.80,734.10 C629.20,735.60 624.09,737.35 620.00,738.60 C616.76,739.59 614.17,740.27 611.25,741.10"/>
<path d="M514.40,741.10 L482.50,734.40 L473.75,726.90 L477.20,720.00 C482.80,717.07 487.62,713.60 494.00,711.20 C501.57,708.35 511.36,706.27 520.00,704.90 C528.36,703.58 536.67,703.00 545.00,703.00 C553.33,703.00 562.28,703.97 570.00,704.90 C576.72,705.71 582.90,706.55 588.75,708.00 C594.08,709.32 598.75,711.33 603.75,713.00 L613.75,719.90 C613.33,721.77 613.70,723.68 612.50,725.50 C610.64,728.32 605.00,730.90 601.25,733.60 C595.00,735.07 588.60,736.72 582.50,738.00 C576.74,739.20 571.23,740.07 565.60,741.10"/>
<path d="M518.10,727.00 L523.10,719.90 L532.50,717.90 L545.00,716.75 L557.50,717.40 L568.75,719.90 L570.00,726.50 L557.50,729.90 L545.00,731.10 L532.50,729.90Z"/>
</g>
<g stroke="#333" stroke-width="3">
<line x1="184.80" x2="184.80" y1="778.0" y2="785.0"/>
<line x1="468.35" x2="468.35" y1="778.0" y2="785.0"/>
<line x1="751.90" x2="751.90" y1="778.0" y2="785.0"/>
<line x1="1035.45" x2="1035.45" y1="778.0" y2="785.0"/>
<line x1="1319.00" x2="1319.00" y1="778.0" y2="785.0"/>
<line y1="741.50" y2="741.50" x1="97.1" x2="104.3"/>
<line y1="497.50" y2="497.50" x1="97.1" x2="104.3"/>
<line y1="253.50" y2="253.50" x1="97.1" x2="104.3"/>
</g>
<g fill="#4D4D4D" font-size="24.4" letter-spacing="0.5">
<text x="184.80" y="807.7" text-anchor="middle">20</text>
<text x="468.35" y="807.7" text-anchor="middle">30</text>
<text x="751.90" y="807.7" text-anchor="middle">40</text>
<text x="1035.45" y="807.7" text-anchor="middle">50</text>
<text x="1319.00" y="807.7" text-anchor="middle">60</text>
<text x="92.0" y="749.95" text-anchor="end">0</text>
<text x="92.0" y="505.95" text-anchor="end">50</text>
<text x="92.0" y="261.95" text-anchor="end">100</text>
</g>
<text x="746" y="842.6" font-size="30.6" text-anchor="middle" fill="#000" textLength="152" lengthAdjust="spacingAndGlyphs">age (years)</text>
<text transform="translate(37.3,395.5) rotate(-90)" font-size="30.6" text-anchor="middle" fill="#000">avg. drinks per day</text>
</svg></body></html>
